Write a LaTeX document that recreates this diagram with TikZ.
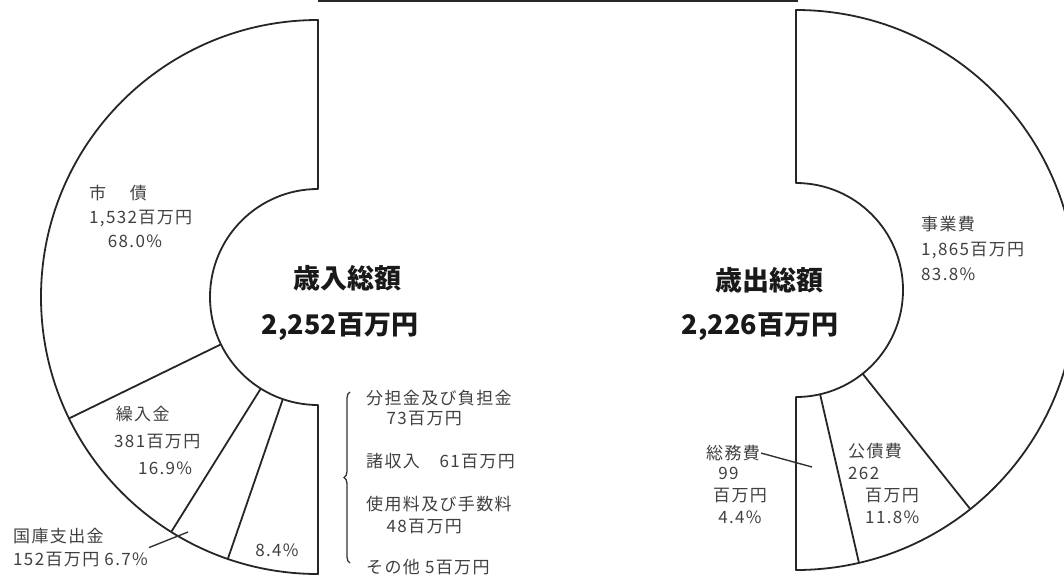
\documentclass[tikz,border=0pt]{standalone}
\usepackage{fontspec}
\newfontfamily\cjk[LetterSpace=8]{Noto Sans CJK JP}
\newfontfamily\cjkbig{Noto Sans CJK JP}
\usetikzlibrary{calc}
\usetikzlibrary{decorations.pathreplacing}
\tikzset{
	chart/.style={line width=1.8pt, black!85, line join=round},
	smalltxt/.style={font=\cjk\fontsize{17}{#1}\selectfont, text=black!75, align=left, anchor=north west, inner sep=1pt},
	smalltxt/.default=24,
	bigtxt/.style={font=\cjkbig\bfseries\fontsize{27}{32}\selectfont, text=black!90, inner sep=1pt},
	pointer/.style={line width=1.4pt, black!80},
	bracket/.style={line width=1.3pt, black!80, decorate, decoration={brace, amplitude=6pt}}
}
\begin{document}
\begin{tikzpicture}[x=1pt,y=1pt]
	\useasboundingbox (0,0) rectangle (1064,-579);
	% centres of the two half rings
	\coordinate (cIn) at (318,-297);
	\coordinate (cOut) at (796,-290);

	% lower edge of the title box
	\draw[line width=2.2pt, black!85] (318,-1.1) -- (798,-1.1);

	% revenue half ring
	\draw[chart] (318,-20) -- (318,-189) arc[start angle=90, end angle=270, radius=108]
		-- (318,-574) arc[start angle=270, end angle=90, radius=277] -- cycle;
	\foreach \a in {206,238,251}
		\draw[chart] ($(cIn)+(\a:108)$) -- ($(cIn)+(\a:277)$);

	% expenditure half ring
	\draw[chart] (796,-10) -- (796,-183) arc[start angle=90, end angle=-90, radius=107]
		-- (796,-570) arc[start angle=-90, end angle=90, radius=280] -- cycle;
	\foreach \a in {-51.5,-77}
		\draw[chart] ($(cOut)+(\a:107)$) -- ($(cOut)+(\a:280)$);

	% totals
	\node[bigtxt] (sainyu) at (347,-278) {歳入総額};
	\node[bigtxt] (sainyuv) at (340,-327) {2,252百万円};
	\node[bigtxt] (saishutsu) at (769,-280) {歳出総額};
	\node[bigtxt] (saishutsuv) at (760,-327) {2,226百万円};

	% revenue labels
	\node[smalltxt] (shisai) at (88,-184) {市\hspace{1.4em}債\\1,532百万円\\\hspace{1.1em}68.0\%};
	\node[smalltxt=27] (kurire) at (113,-405) {\hspace{0.1em}繰入金\\381百万円\\\hspace{1.4em}16.9\%};
	\node[smalltxt=23] (kokko) at (12,-527) {国庫支出金\\152百万円 6.7\%};
	\node[smalltxt, anchor=center] (sonohoka) at (277,-550) {8.4\%};
	\coordinate (kokkoP) at (188,-532);
	\draw[pointer] (kokko.east) -- (kokkoP);

	% breakdown of the 8.4%
	\coordinate (brB) at (350,-563);
	\coordinate (brT) at (350,-392);
	\draw[bracket] (brB) -- (brT);
	\node[smalltxt=20] (buntan) at (365,-389) {分担金及び負担金\\\hspace{1.2em}73百万円};
	\node[smalltxt] (shoshu) at (365,-452) {諸収入　61百万円};
	\node[smalltxt=22] (shiyou) at (365,-495) {使用料及び手数料\\\hspace{1.2em}48百万円};
	\node[smalltxt] (sonota) at (365,-558) {その他 5百万円};

	% expenditure labels
	\node[smalltxt=25] (jigyo) at (920,-215) {事業費\\1,865百万円\\83.8\%};
	\node[smalltxt] (soumu) at (705,-444) {総務費};
	\node[smalltxt=22] (soumuv) at (712,-466) {\hspace{0.3em}99\\百万円\\\hspace{0.3em}4.4\%};
	\node[smalltxt=22] (kousai) at (847,-442) {公債費\\262\\\hspace{1em}百万円\\\hspace{1em}11.8\%};
	\coordinate (soumuP) at (812,-467);
	\draw[pointer] (soumu.east) -- (soumuP);
\end{tikzpicture}
\end{document}
